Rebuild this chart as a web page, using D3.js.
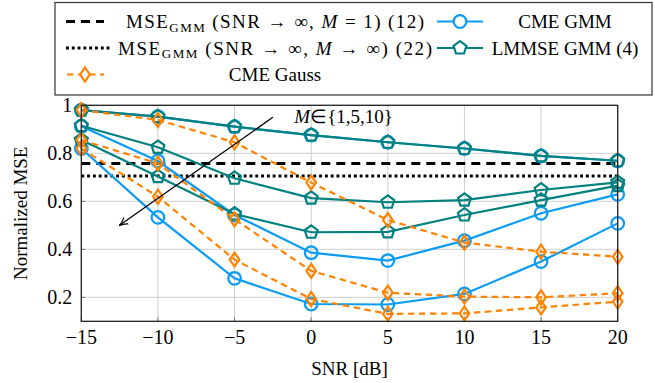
<!DOCTYPE html>
<html>
<head>
<meta charset="utf-8">
<script src="https://cdn.jsdelivr.net/npm/d3@7"></script>
<style>
  body { margin: 0; background: #fff; }
</style>
</head>
<body>
<svg id="chart" width="655" height="383" font-family="Liberation Serif"></svg>
<script>
// data
const snr = [-15, -10, -5, 0, 5, 10, 15, 20];
const cmeGmm = [
    [0.980, 0.953, 0.911, 0.876, 0.846, 0.820, 0.789, 0.769],
    [0.913, 0.768, 0.543, 0.386, 0.353, 0.436, 0.550, 0.629],
    [0.820, 0.533, 0.279, 0.172, 0.170, 0.214, 0.349, 0.508]
];
const lmmseGmm = [
    [0.980, 0.953, 0.911, 0.876, 0.846, 0.820, 0.789, 0.769],
    [0.915, 0.825, 0.696, 0.613, 0.596, 0.605, 0.647, 0.679],
    [0.855, 0.703, 0.547, 0.471, 0.473, 0.543, 0.605, 0.665]
];
const cmeGauss = [
    [0.980, 0.939, 0.846, 0.678, 0.522, 0.428, 0.390, 0.369],
    [0.855, 0.758, 0.525, 0.310, 0.219, 0.203, 0.200, 0.217],
    [0.820, 0.619, 0.357, 0.193, 0.131, 0.133, 0.158, 0.182]
];
const mseBoundM1 = 0.758;
const mseBoundMinf = 0.705;
const xTicks = [-15, -10, -5, 0, 5, 10, 15, 20];
const yTicks = [0.2, 0.4, 0.6, 0.8, 1];
const arrowFrom = [-2.5, 0.95];
const arrowTo = [-12.5, 0.5];
const arrowLabelAt = [-1.1, 0.926];

const blue = "#0a9cf5", teal = "#00807f", orange = "#ff8200";

const svg = d3.select("#chart");
const margin = { left: 81.3, right: 37.3, top: 105.3, bottom: 61.7 };
const W = 655, H = 383;

const x = d3.scaleLinear().domain([-15, 20]).range([margin.left, W - margin.right]);
const y = d3.scaleLinear().domain([0.1, 1]).range([H - margin.bottom, margin.top]);

const fmt = v => (v < 0 ? "\u2212" + Math.abs(v) : String(v));

// grid
svg.append("g").selectAll("line").data(xTicks).join("line")
    .attr("x1", d => x(d)).attr("x2", d => x(d))
    .attr("y1", y(0.1)).attr("y2", y(1))
    .attr("stroke", "#cfcfcf").attr("stroke-width", 1);
svg.append("g").selectAll("line").data(yTicks).join("line")
    .attr("x1", x(-15)).attr("x2", x(20))
    .attr("y1", d => y(d)).attr("y2", d => y(d))
    .attr("stroke", "#cfcfcf").attr("stroke-width", 1);

// inner ticks
const tickLen = 4;
svg.append("g").selectAll("line").data(xTicks).join("line")
    .attr("x1", d => x(d)).attr("x2", d => x(d))
    .attr("y1", y(0.1)).attr("y2", y(0.1) - tickLen)
    .attr("stroke", "#777");
svg.append("g").selectAll("line").data(yTicks).join("line")
    .attr("x1", x(-15)).attr("x2", x(-15) + tickLen)
    .attr("y1", d => y(d)).attr("y2", d => y(d))
    .attr("stroke", "#777");

// tick labels
svg.append("g").selectAll("text").data(xTicks).join("text")
    .attr("x", d => x(d)).attr("y", H - margin.bottom + 23)
    .attr("text-anchor", "middle").attr("font-size", 20)
    .text(fmt);
svg.append("g").selectAll("text").data(yTicks).join("text")
    .attr("x", x(-15) - 9).attr("y", d => y(d) + 6.5)
    .attr("text-anchor", "end").attr("font-size", 20)
    .text(d => d);

// axis titles
svg.append("text")
    .attr("x", (x(-15) + x(20)) / 2).attr("y", 375)
    .attr("text-anchor", "middle").attr("font-size", 19)
    .text("SNR [dB]");
svg.append("text")
    .attr("transform", `translate(27,${(y(0.1) + y(1)) / 2}) rotate(-90)`)
    .attr("text-anchor", "middle").attr("font-size", 19)
    .text("Normalized MSE");

// horizontal bounds
svg.append("line")
    .attr("x1", x(-15)).attr("x2", x(20))
    .attr("y1", y(mseBoundM1)).attr("y2", y(mseBoundM1))
    .attr("stroke", "#000").attr("stroke-width", 3)
    .attr("stroke-dasharray", "9,6");
svg.append("line")
    .attr("x1", x(-15)).attr("x2", x(20))
    .attr("y1", y(mseBoundMinf)).attr("y2", y(mseBoundMinf))
    .attr("stroke", "#000").attr("stroke-width", 3)
    .attr("stroke-dasharray", "2.9,2.9");

// markers
function pentagon(r) {
    const pts = d3.range(5).map(i => {
        const a = -Math.PI / 2 + i * 2 * Math.PI / 5;
        return [r * Math.cos(a), r * Math.sin(a)];
    });
    return "M" + pts.join("L") + "Z";
}
const markerPath = {
    circle: d3.symbol(d3.symbolCircle, Math.PI * 6.3 * 6.3)(),
    pentagon: pentagon(6.8),
    diamond: "M0,-7L4.8,0L0,7L-4.8,0Z"
};

const line = d3.line().x((d, i) => x(snr[i])).y(d => y(d));

function drawSeries(sets, color, marker, dash) {
    const g = svg.append("g");
    sets.forEach(vals => {
        g.append("path")
            .attr("d", line(vals))
            .attr("fill", "none").attr("stroke", color).attr("stroke-width", 2.2)
            .attr("stroke-dasharray", dash || null);
        g.append("g").selectAll("path").data(vals).join("path")
            .attr("transform", (d, i) => `translate(${x(snr[i])},${y(d)})`)
            .attr("d", markerPath[marker])
            .attr("fill", "none").attr("stroke", color).attr("stroke-width", 2.2);
    });
}

drawSeries(cmeGmm, blue, "circle");
drawSeries(lmmseGmm, teal, "pentagon");
drawSeries(cmeGauss, orange, "diamond", "6.5,4.5");

// frame
svg.append("rect")
    .attr("x", x(-15)).attr("y", y(1))
    .attr("width", x(20) - x(-15)).attr("height", y(0.1) - y(1))
    .attr("fill", "none").attr("stroke", "#222").attr("stroke-width", 1.3);

// annotation arrow
svg.append("defs").append("marker")
    .attr("id", "arrowhead")
    .attr("viewBox", "0 -5 10 10")
    .attr("refX", 9).attr("refY", 0)
    .attr("markerWidth", 9).attr("markerHeight", 9)
    .attr("markerUnits", "userSpaceOnUse")
    .attr("orient", "auto")
    .append("path")
    .attr("d", "M0,-4.5Q4,-1 10,0Q4,1 0,4.5")
    .attr("fill", "none").attr("stroke", "#000").attr("stroke-width", 1.3);
svg.append("line")
    .attr("x1", x(arrowFrom[0])).attr("y1", y(arrowFrom[1]))
    .attr("x2", x(arrowTo[0])).attr("y2", y(arrowTo[1]))
    .attr("stroke", "#000").attr("stroke-width", 1.3)
    .attr("marker-end", "url(#arrowhead)");
const ann = svg.append("text")
    .attr("x", x(arrowLabelAt[0])).attr("y", y(arrowLabelAt[1]))
    .attr("font-size", 19);
ann.append("tspan").attr("font-style", "italic").text("M");
ann.append("tspan").text("\u2208{1,5,10}");

// legend
const legend = svg.append("g");
legend.append("rect")
    .attr("x", 55).attr("y", 2.5).attr("width", 597).attr("height", 92.5)
    .attr("fill", "#fff").attr("stroke", "#333").attr("stroke-width", 1.2);

const rowY = [21.5, 48, 74.5];

function mseLabel(g, cx, cy, mText, len) {
    const t = g.append("text").attr("x", cx).attr("y", cy + 6.5)
        .attr("text-anchor", "middle").attr("font-size", 19)
        .attr("textLength", len).attr("lengthAdjust", "spacing");
    t.append("tspan").text("MSE");
    t.append("tspan").attr("font-size", 13).attr("dy", 3.5).text("GMM");
    t.append("tspan").attr("dy", -3.5).text(" (SNR \u2192 \u221e, ");
    t.append("tspan").attr("font-style", "italic").text("M");
    t.append("tspan").text(mText);
}

// column 1
legend.append("line").attr("x1", 66).attr("x2", 104).attr("y1", rowY[0]).attr("y2", rowY[0])
    .attr("stroke", "#000").attr("stroke-width", 3).attr("stroke-dasharray", "9,6");
mseLabel(legend, 275, rowY[0], " = 1) (12)", 298);
legend.append("line").attr("x1", 66).attr("x2", 110).attr("y1", rowY[1]).attr("y2", rowY[1])
    .attr("stroke", "#000").attr("stroke-width", 3).attr("stroke-dasharray", "2.9,2.9");
mseLabel(legend, 275, rowY[1], " \u2192 \u221e) (22)", 314);
legend.append("line").attr("x1", 66).attr("x2", 104).attr("y1", rowY[2]).attr("y2", rowY[2])
    .attr("stroke", orange).attr("stroke-width", 2.2).attr("stroke-dasharray", "6.5,4.5")
    .attr("stroke-dashoffset", -1);
legend.append("path").attr("transform", `translate(85,${rowY[2]})`).attr("d", markerPath.diamond)
    .attr("fill", "#fff").attr("stroke", orange).attr("stroke-width", 2.2);
legend.append("text").attr("x", 275).attr("y", rowY[2] + 6.5)
    .attr("text-anchor", "middle").attr("font-size", 19).text("CME Gauss");

// column 2
[[blue, "circle", "CME GMM"], [teal, "pentagon", "LMMSE GMM (4)"]].forEach(([c, m, label], i) => {
    legend.append("line").attr("x1", 437).attr("x2", 483).attr("y1", rowY[i]).attr("y2", rowY[i])
        .attr("stroke", c).attr("stroke-width", 2.2);
    legend.append("path").attr("transform", `translate(460,${rowY[i]})`).attr("d", markerPath[m])
        .attr("fill", "#fff").attr("stroke", c).attr("stroke-width", 2.2);
    legend.append("text").attr("x", 565).attr("y", rowY[i] + 6.5)
        .attr("text-anchor", "middle").attr("font-size", 19).text(label);
});
</script>
</body>
</html>
